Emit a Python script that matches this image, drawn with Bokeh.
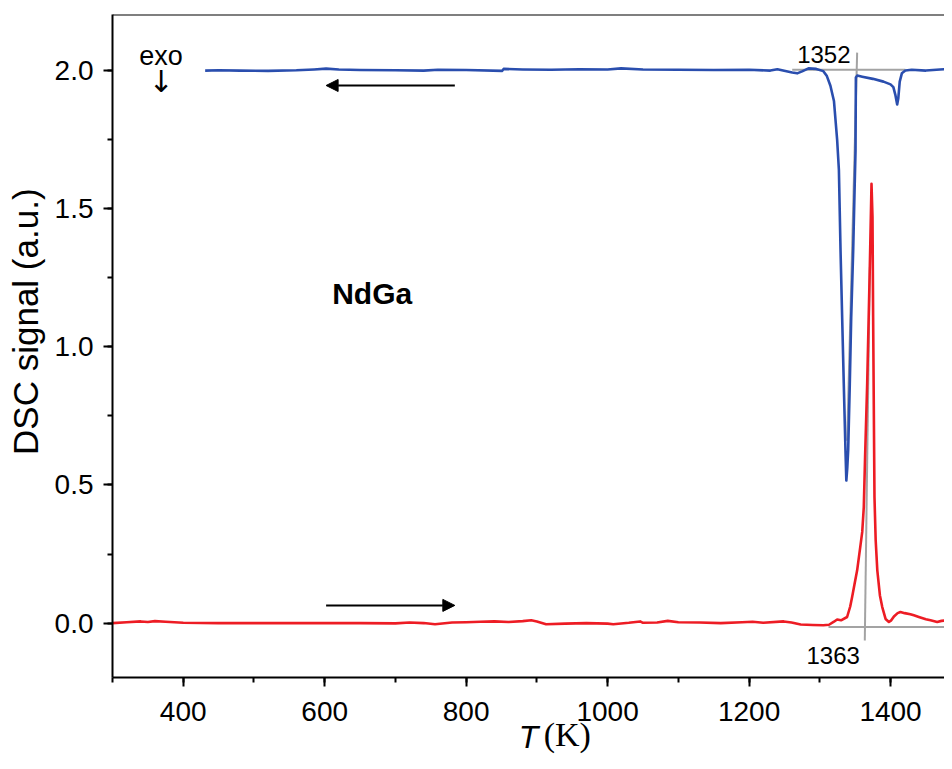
from bokeh.plotting import figure
from bokeh.models import (Label, Arrow, NormalHead, Span, SingleIntervalTicker,
                          NumeralTickFormatter, Range1d, LinearAxis, FixedTicker)
from bokeh.embed import file_html
from bokeh.resources import INLINE

# ---------------- data ----------------
# cooling run (blue), shifted by +2.0
cool_T = [431, 450, 480, 520, 560, 585, 602, 620, 650, 700, 740, 760, 800, 851, 853,
          880, 920, 960, 1000, 1019, 1050, 1100, 1150, 1200, 1230, 1240, 1261, 1268,
          1275, 1284, 1295, 1305, 1310, 1315, 1320, 1324.5, 1327, 1329.3, 1331.6,
          1333.9, 1336.3, 1337.5, 1338.8, 1340.1, 1342.4, 1344.4, 1347.2, 1349,
          1350.5, 1351, 1353, 1360, 1375, 1390, 1400, 1404, 1407, 1409.4, 1411, 1413,
          1416, 1421, 1430, 1450, 1470, 1482, 1489]
cool_S = [2.000, 2.001, 2.000, 1.999, 2.001, 2.004, 2.007, 2.004, 2.002, 2.001, 2.000,
          2.003, 2.002, 1.999, 2.006, 2.004, 2.003, 2.005, 2.004, 2.008, 2.004, 2.003,
          2.002, 2.003, 2.000, 2.005, 1.993, 1.990, 1.997, 2.008, 2.006, 1.998, 1.980,
          1.945, 1.890, 1.750, 1.640, 1.350, 1.107, 0.866, 0.625, 0.516, 0.560, 0.625,
          0.866, 1.107, 1.349, 1.550, 1.710, 1.975, 1.982, 1.978, 1.970, 1.960, 1.950,
          1.940, 1.910, 1.877, 1.900, 1.960, 1.990, 2.000, 2.003, 2.000, 2.004, 2.006,
          2.002]

# heating run (red)
heat_T = [300, 320, 340, 350, 360, 375, 400, 450, 500, 550, 600, 650, 700, 720, 740,
          756, 780, 800, 820, 840, 860, 880, 892, 900, 913, 940, 970, 1000, 1008, 1030,
          1046, 1050, 1070, 1085, 1100, 1130, 1160, 1190, 1205, 1220, 1249, 1260, 1273,
          1290, 1305, 1313, 1320, 1324.5, 1330, 1338.6, 1343, 1345.7, 1349, 1352.8,
          1357.5, 1360, 1362.2, 1364, 1367, 1370.7, 1373.1, 1374.5, 1375.4, 1377.3,
          1379, 1381.3, 1385, 1388.3, 1393, 1397.7, 1401, 1404.8, 1410, 1414, 1420,
          1428, 1433, 1440, 1450, 1456.5, 1466, 1472, 1480, 1489]
heat_S = [0.000, 0.003, 0.006, 0.004, 0.007, 0.005, 0.001, 0.000, 0.000, 0.000, 0.000,
          0.000, -0.001, 0.002, 0.000, -0.004, 0.002, 0.003, 0.005, 0.006, 0.004, 0.007,
          0.010, 0.006, -0.004, -0.002, 0.000, -0.002, -0.004, 0.001, 0.006, 0.001,
          0.002, 0.008, 0.003, 0.002, 0.000, 0.003, 0.005, 0.001, 0.006, 0.002, -0.005,
          -0.007, -0.008, -0.006, 0.005, 0.013, 0.010, 0.022, 0.060, 0.094, 0.140,
          0.191, 0.281, 0.330, 0.420, 0.600, 0.867, 1.288, 1.590, 1.470, 1.107, 0.456,
          0.300, 0.191, 0.100, 0.058, 0.015, 0.004, 0.010, 0.024, 0.036, 0.040, 0.036,
          0.032, 0.028, 0.022, 0.014, 0.010, 0.004, 0.008, 0.010, 0.008]

# onset construction lines (baseline + tangent)
cool_base_T = [1261, 1421]
cool_base_S = [2.003, 2.003]
cool_tan_T = [1352.8, 1338.7]
cool_tan_S = [2.065, 0.660]
heat_base_T = [1312.3, 1477.8]
heat_base_S = [-0.014, -0.014]
heat_tan_T = [1363.6, 1370.7]
heat_tan_S = [-0.063, 1.288]
onset_labels = ["1352", "1363"]

x_title = "T"
x_unit = "(K)"
y_title = "DSC signal (a.u.)"
x_ticks_interval = 200
y_ticks_interval = 0.5

# ---------------- figure ----------------
FONT = "Liberation Sans"
BLUE = "#2a4eae"
RED = "#ed1c24"
GREY = "#a3a3a3"

X0, X1 = 300, 1476.3
Y0, Y1 = -0.197, 2.203

p = figure(width=944, height=761, x_range=Range1d(X0, X1),
           y_range=Range1d(Y0, Y1), output_backend="svg",
           toolbar_location=None, title=None,
           min_border_left=112, min_border_right=0, min_border_top=14,
           min_border_bottom=84)
p.background_fill_color = "white"
p.border_fill_color = "white"
p.outline_line_color = None
p.xgrid.visible = False
p.ygrid.visible = False

for ax in (p.xaxis[0], p.yaxis[0]):
    ax.axis_line_width = 2
    ax.axis_line_color = "black"
    ax.major_tick_line_width = 2
    ax.minor_tick_line_width = 2
    ax.major_tick_in = 0
    ax.major_tick_out = 9
    ax.minor_tick_in = 0
    ax.minor_tick_out = 5
    ax.major_label_text_font = FONT
    ax.major_label_text_font_size = "28px"
    ax.major_label_text_color = "black"

p.xaxis.major_label_standoff = 15
p.yaxis.major_label_standoff = 10

p.xaxis.ticker = SingleIntervalTicker(interval=x_ticks_interval, num_minor_ticks=2)
p.yaxis.ticker = SingleIntervalTicker(interval=y_ticks_interval, num_minor_ticks=2)
p.yaxis.formatter = NumeralTickFormatter(format="0.0")

# y-axis title (leading no-break spaces lift it slightly above the frame centre)
p.yaxis.axis_label = "\u00a0" * 5 + y_title
p.yaxis.axis_label_text_font = FONT
p.yaxis.axis_label_text_font_size = "35px"
p.yaxis.axis_label_text_font_style = "normal"
p.yaxis.axis_label_text_color = "black"
p.yaxis.axis_label_standoff = 7

# x-axis title: italic "T" ...
p.xaxis.axis_label = x_title
p.xaxis.axis_label_text_font = FONT
p.xaxis.axis_label_text_font_size = "32px"
p.xaxis.axis_label_text_font_style = "italic"
p.xaxis.axis_label_text_color = "black"
p.xaxis.axis_label_standoff = -5

# ... followed by upright serif "(K)" (second, invisible axis carrying one label)
unit_ax = LinearAxis(ticker=FixedTicker(ticks=[943]),
                     major_label_overrides={943: x_unit},
                     axis_line_color=None, major_tick_line_color=None,
                     minor_tick_line_color=None, major_tick_out=0, major_tick_in=0,
                     minor_tick_out=0, minor_tick_in=0,
                     major_label_text_font="Liberation Serif",
                     major_label_text_font_size="34px",
                     major_label_text_color="black",
                     major_label_standoff=-42)
p.add_layout(unit_ax, "below")

# top frame line
p.add_layout(Span(location=Y1, dimension="width", line_color="black", line_width=2))

# construction lines
p.line(cool_base_T, cool_base_S, line_color=GREY, line_width=2)
p.line(cool_tan_T, cool_tan_S, line_color=GREY, line_width=2)
p.line(heat_base_T, heat_base_S, line_color=GREY, line_width=2)
p.line(heat_tan_T, heat_tan_S, line_color=GREY, line_width=2)

# curves
p.line(heat_T, heat_S, line_color=RED, line_width=2.6, line_join="round")
p.line(cool_T, cool_S, line_color=BLUE, line_width=2.6, line_join="round")

# arrows
p.add_layout(Arrow(x_start=784, y_start=1.946, x_end=602, y_end=1.946,
                   line_width=2, line_color="black",
                   end=NormalHead(size=12, fill_color="black", line_color="black")))
p.add_layout(Arrow(x_start=602, y_start=0.064, x_end=784, y_end=0.064,
                   line_width=2, line_color="black",
                   end=NormalHead(size=12, fill_color="black", line_color="black")))

# texts
p.add_layout(Label(x=1305.7, y=2.060, text=onset_labels[0], text_font=FONT,
                   text_font_size="24px", text_align="center",
                   text_baseline="alphabetic", text_color="black"))
p.add_layout(Label(x=1318.9, y=-0.117, text=onset_labels[1], text_font=FONT,
                   text_font_size="24px", text_align="center",
                   text_baseline="alphabetic", text_color="black"))
p.add_layout(Label(x=368.6, y=2.054, text="exo", text_font=FONT,
                   text_font_size="27px", text_align="center",
                   text_baseline="alphabetic", text_color="black"))
p.add_layout(Label(x=368.6, y=1.960, text="\u2193", text_font="DejaVu Sans",
                   text_font_size="30px", text_align="center",
                   text_baseline="middle", text_color="black"))
p.add_layout(Label(x=667.1, y=1.192, text="NdGa", text_font=FONT,
                   text_font_size="30px", text_font_style="bold",
                   text_align="center", text_baseline="alphabetic",
                   text_color="black"))

open("out.html", "w").write(file_html(p, INLINE))
